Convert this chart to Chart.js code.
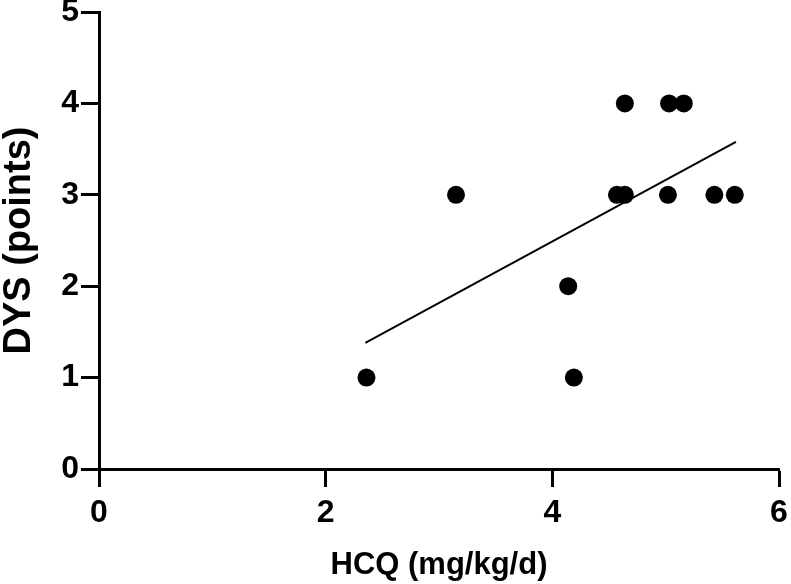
<!DOCTYPE html>
<html>
<head>
<meta charset="utf-8">
<script src="https://cdn.jsdelivr.net/npm/chart.js@4"></script>
<style>
  html, body { margin: 0; padding: 0; background: #fff; }
  #wrap { width: 791px; height: 584px; }
</style>
</head>
<body>
<div id="wrap"><canvas id="grafico" width="791" height="584"></canvas></div>
<script>
// dados
const hcqDose = [2.36, 3.15, 4.14, 4.19, 4.57, 4.64, 4.64, 5.03, 5.16, 5.02, 5.43, 5.61];
const dysScore = [1, 3, 2, 1, 3, 3, 4, 4, 4, 3, 3, 3];
// reta de regressão (extremos)
const fitX = [2.35, 5.62];
const fitY = [1.38, 3.58];
const xTicks = [0, 2, 4, 6];
const yTicks = [0, 1, 2, 3, 4, 5];

const pontos = hcqDose.map((x, i) => ({ x: x, y: dysScore[i] }));
const reta = fitX.map((x, i) => ({ x: x, y: fitY[i] }));

const fonte = "'Liberation Sans', Arial, Helvetica, sans-serif";

const ctx = document.getElementById('grafico').getContext('2d');
new Chart(ctx, {
    type: 'scatter',
    data: {
        datasets: [
            {
                label: 'DYS',
                data: pontos,
                backgroundColor: '#000',
                borderWidth: 0,
                pointRadius: 9,
                pointHoverRadius: 9
            },
            {
                label: 'fit',
                data: reta,
                showLine: true,
                borderColor: '#000',
                borderWidth: 2,
                pointRadius: 0,
                fill: false
            }
        ]
    },
    options: {
        responsive: false,
        animation: false,
        layout: { padding: { left: 0, right: 12, top: 12, bottom: 0 } },
        plugins: {
            legend: { display: false },
            tooltip: { enabled: false }
        },
        scales: {
            x: {
                type: 'linear',
                min: 0,
                max: 6,
                afterBuildTicks: (s) => { s.ticks = xTicks.map(v => ({ value: v })); },
                afterFit: (s) => { s.height = 115; s.paddingLeft = 0; s.paddingRight = 0; },
                border: { color: '#000', width: 3 },
                grid: { drawOnChartArea: false, tickLength: 18, tickWidth: 3, tickColor: '#000' },
                ticks: { color: '#000', padding: 10, font: { family: fonte, size: 32, weight: 'bold', lineHeight: 1 } },
                title: {
                    display: true,
                    text: 'HCQ (mg/kg/d)',
                    color: '#000',
                    font: { family: fonte, size: 31, weight: 'bold', lineHeight: 1 },
                    padding: { top: 0, bottom: 3 }
                }
            },
            y: {
                type: 'linear',
                min: 0,
                max: 5,
                afterBuildTicks: (s) => { s.ticks = yTicks.map(v => ({ value: v })); },
                afterFit: (s) => { s.width = 99; s.paddingTop = 0; s.paddingBottom = 0; },
                border: { color: '#000', width: 3 },
                grid: { drawOnChartArea: false, tickLength: 18, tickWidth: 3, tickColor: '#000' },
                ticks: { color: '#000', padding: 2, font: { family: fonte, size: 32, weight: 'bold', lineHeight: 1 } },
                title: {
                    display: true,
                    text: 'DYS (points)',
                    color: '#000',
                    font: { family: fonte, size: 38, weight: 'bold', lineHeight: 1 },
                    padding: { top: 1, bottom: 0 }
                }
            }
        }
    }
});
</script>
</body>
</html>
